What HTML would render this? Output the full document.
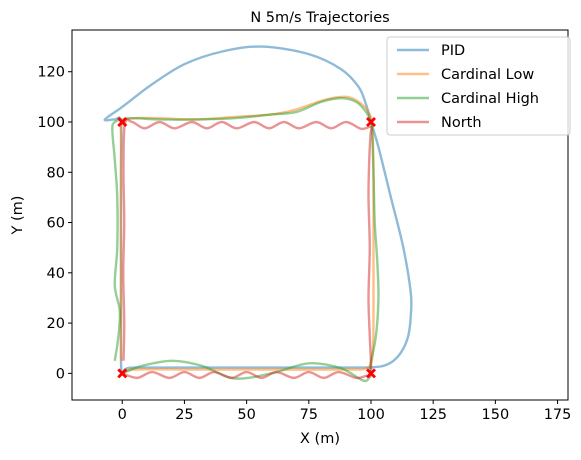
<!DOCTYPE html>
<html><head><meta charset="utf-8"><style>
body{margin:0;background:#fff;font-family:"Liberation Sans","DejaVu Sans",sans-serif}
svg text{font-family:"DejaVu Sans","Liberation Sans",sans-serif}
</style></head><body>
<svg id="c" width="581" height="455" xmlns="http://www.w3.org/2000/svg"></svg>
<script>
const xTicks=[0,25,50,75,100,125,150,175];
const yTicks=[0,20,40,60,80,100,120];
const seriesNames=["PID","Cardinal Low","Cardinal High","North"];
const seriesColors=["#1f77b4","#ff7f0e","#2ca02c","#d62728"];
const pidX=[0,2,10,50,95,100,105,109,112.5,115,116,116,113,108,103,100,98,95,88,75,56,40,25,12,0,-7,-3,-0.5,-0.5,-0.5,-0.5,0];
const pidY=[0,2,2.3,2.3,2.3,2.4,3,5,9,15,23,32,50,70,90,100,107,114,121,127,130,128,123,115,106,101,101,100,80,40,5,0];
const lowX=[0,5,30,60,90,98,100.5,101,101,101,100.5,99,95,90,82,70,60,45,30,15,5,0,-0.5,-0.5,-0.5,-0.5];
const lowY=[0,1.5,1.5,1.5,1.5,2,6,20,50,80,98,104,108,110,109,105,103,102,101,101.5,101.5,100,90,50,20,5];
const highX=[0,8,20,32,45,60,75,88,98,100,102,103,102.5,101.5,101,100.5,100,98,94,88,80,70,60,45,30,15,5,0,-3,-4,-3,-2,-2,-3,-1,-1.5,-3];
const highY=[0,3,5,3,-2,0,4,2,-3,5,15,30,45,60,80,95,100,104,108,109.5,108,104,103,101.5,101,101,101.5,101,100,97,85,70,50,35,25,15,5];
const northX=[0,6,12,19,25,31,37,44,50,56,62,69,75,81,87,94,98,100,99.5,99,99.5,99,99.3,99.8,100,96,90,84,78,71,65,59,53,46,40,34,28,21,15,9,4,1,0.5,0.8,0.4,0.8,0.5];
const northY=[0,-1.8,0.5,-1.8,0.5,-1.8,0.5,-1.8,0.5,-1.8,0.5,-1.8,0.5,-1.8,0.5,-1.8,-1,0,15,30,50,70,85,95,98,97.3,100,97.5,100,97.5,100,97.5,100,97.5,100,97.5,100,97.5,100,97.5,100,99,80,60,40,20,5];
const waypointX=[0,100,100,0];
const waypointY=[0,0,100,100];

const L=72,R=568,T=30,B=400;
const xmin=-20.2,xmax=179.2,ymin=-10.6,ymax=136.6;
const sx=v=>L+(v-xmin)/(xmax-xmin)*(R-L);
const sy=v=>B-(v-ymin)/(ymax-ymin)*(B-T);
const NS="http://www.w3.org/2000/svg";
const svg=document.getElementById('c');
function mk(tag,attrs,parent){const e=document.createElementNS(NS,tag);for(const k in attrs)e.setAttribute(k,attrs[k]);(parent||svg).appendChild(e);return e;}
function smooth(xs,ys){const p=xs.map((x,i)=>[sx(x),sy(ys[i])]);let d=`M${p[0][0]},${p[0][1]}`;
 for(let i=0;i<p.length-1;i++){const p0=p[i-1]||p[i],p1=p[i],p2=p[i+1],p3=p[i+2]||p2;
 const c1=[p1[0]+(p2[0]-p0[0])/6,p1[1]+(p2[1]-p0[1])/6],c2=[p2[0]-(p3[0]-p1[0])/6,p2[1]-(p3[1]-p1[1])/6];
 d+=`C${c1[0]},${c1[1]} ${c2[0]},${c2[1]} ${p2[0]},${p2[1]}`;}return d;}

const title=mk('text',{x:320,y:22,'text-anchor':'middle','font-size':14.5});title.textContent="N 5m/s Trajectories";


const clip=mk('clipPath',{id:'pc'});mk('rect',{x:L,y:T,width:R-L,height:B-T},clip);
const g=mk('g',{'clip-path':'url(#pc)'});
const data=[[pidX,pidY],[lowX,lowY],[highX,highY],[northX,northY]];
data.forEach((s,i)=>{const p=mk('path',{d:smooth(s[0],s[1]),fill:'none',stroke:seriesColors[i],'stroke-width':2.4,'stroke-opacity':0.5,'stroke-linejoin':'round'},g);
 
 });
waypointX.forEach((x,i)=>{const cx=sx(x),cy=sy(waypointY[i]);
 const m=mk('path',{d:`M${cx-4},${cy-4}L${cx+4},${cy+4}M${cx-4},${cy+4}L${cx+4},${cy-4}`,stroke:'#f00','stroke-width':2.8},g);
 
 });
const frame=mk('rect',{x:L,y:T,width:R-L,height:B-T,fill:'none',stroke:'#000','stroke-width':1});


xTicks.forEach(v=>{const x=sx(v);mk('line',{x1:x,x2:x,y1:B,y2:B+4,stroke:'#000'});
 const t=mk('text',{x:x,y:B+19,'text-anchor':'middle','font-size':14.5});t.textContent=v;
 
 });
yTicks.forEach(v=>{const y=sy(v);mk('line',{x1:L-4,x2:L,y1:y,y2:y,stroke:'#000'});
 const t=mk('text',{x:L-7,y:y+5,'text-anchor':'end','font-size':14.5});t.textContent=v;
 
 });
const xl=mk('text',{x:320,y:443,'text-anchor':'middle','font-size':14.5});xl.textContent="X (m)";


const yl=mk('text',{x:0,y:0,'text-anchor':'middle','font-size':14.5,transform:'translate(22,215) rotate(-90)'});yl.textContent="Y (m)";


const lg=mk('g',{});


mk('rect',{x:387,y:37,width:183,height:98,rx:3,fill:'#fff','fill-opacity':0.8,stroke:'#ccc'},lg);
seriesNames.forEach((n,i)=>{const y=50+i*24;
 const ln=mk('line',{x1:397,x2:429,y1:y,y2:y,stroke:seriesColors[i],'stroke-width':2.4,'stroke-opacity':0.5},lg);
 
 
 const t=mk('text',{x:441,y:y+5,'font-size':14.5},lg);t.textContent=n;
 
 });
</script>
</body></html>
